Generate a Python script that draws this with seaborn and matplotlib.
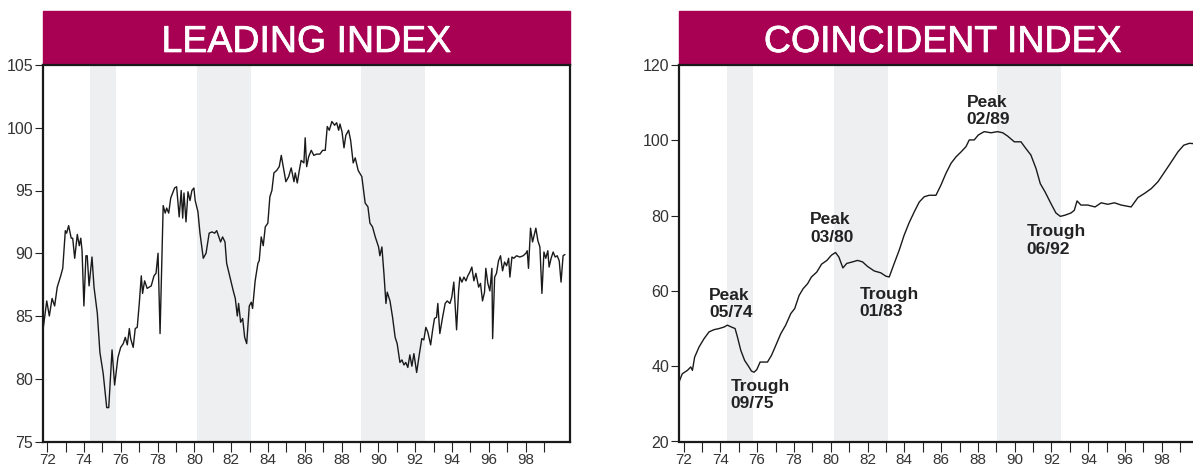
import matplotlib
matplotlib.use("Agg")
import matplotlib.pyplot as plt
import matplotlib.patheffects as pe
from matplotlib.patches import Rectangle
import seaborn as sns
import pandas as pd

# leading index (decimal year, value)
lead_t = [
    1971.75, 1971.97, 1972.11, 1972.26, 1972.40, 1972.54, 1972.73, 1972.84, 1972.98, 1973.05,
    1973.16, 1973.30, 1973.38, 1973.49, 1973.63, 1973.74, 1973.82, 1973.89, 1973.99, 1974.10,
    1974.17, 1974.27, 1974.43, 1974.54, 1974.72, 1974.86, 1975.04, 1975.23, 1975.34, 1975.52,
    1975.66, 1975.84, 1975.99, 1976.13, 1976.24, 1976.35, 1976.46, 1976.53, 1976.67, 1976.78,
    1976.89, 1977.00, 1977.11, 1977.18, 1977.29, 1977.43, 1977.65, 1977.80, 1977.91, 1978.02,
    1978.13, 1978.30, 1978.41, 1978.49, 1978.60, 1978.71, 1978.92, 1979.03, 1979.17, 1979.28,
    1979.36, 1979.43, 1979.54, 1979.65, 1979.76, 1979.86, 1979.97, 1980.04, 1980.19, 1980.30,
    1980.48, 1980.63, 1980.80, 1980.95, 1981.10, 1981.21, 1981.42, 1981.53, 1981.66, 1981.75,
    1981.93, 1982.11, 1982.22, 1982.33, 1982.40, 1982.51, 1982.62, 1982.73, 1982.84, 1982.98,
    1983.09, 1983.16, 1983.30, 1983.45, 1983.52, 1983.63, 1983.74, 1983.85, 1983.99, 1984.10,
    1984.21, 1984.32, 1984.47, 1984.61, 1984.72, 1984.86, 1984.97, 1985.12, 1985.26, 1985.41,
    1985.48, 1985.59, 1985.70, 1985.80, 1985.95, 1986.02, 1986.10, 1986.21, 1986.35, 1986.49,
    1986.64, 1986.82, 1986.97, 1987.11, 1987.22, 1987.33, 1987.47, 1987.62, 1987.73, 1987.84,
    1987.91, 1988.02, 1988.13, 1988.23, 1988.38, 1988.49, 1988.63, 1988.74, 1988.90, 1989.10,
    1989.28, 1989.43, 1989.54, 1989.68, 1989.83, 1990.01, 1990.08, 1990.19, 1990.30, 1990.41,
    1990.48, 1990.63, 1990.77, 1990.91, 1991.02, 1991.17, 1991.28, 1991.39, 1991.49, 1991.60,
    1991.71, 1991.82, 1991.93, 1992.08, 1992.22, 1992.36, 1992.47, 1992.58, 1992.69, 1992.84,
    1992.95, 1993.05, 1993.16, 1993.23, 1993.34, 1993.49, 1993.63, 1993.74, 1993.89, 1993.99,
    1994.10, 1994.25, 1994.36, 1994.43, 1994.54, 1994.65, 1994.76, 1994.86, 1994.97, 1995.08,
    1995.19, 1995.30, 1995.45, 1995.55, 1995.66, 1995.77, 1995.84, 1995.95, 1996.06, 1996.17,
    1996.21, 1996.32, 1996.42, 1996.53, 1996.64, 1996.75, 1996.86, 1996.97, 1997.08, 1997.15,
    1997.26, 1997.36, 1997.51, 1997.69, 1997.87, 1998.02, 1998.09, 1998.16, 1998.27, 1998.38,
    1998.56, 1998.67, 1998.78, 1998.89, 1999.00, 1999.10, 1999.21, 1999.28, 1999.39, 1999.50,
    1999.61, 1999.72, 1999.83, 1999.93, 2000.04, 2000.14,
]
lead_v = [
    83.7, 86.2, 85.0, 86.4, 85.8, 87.3, 88.2, 88.8, 91.8, 91.6,
    92.2, 91.2, 91.2, 89.6, 91.5, 90.6, 91.2, 90.2, 85.8, 89.8,
    89.8, 87.4, 89.7, 87.3, 85.2, 82.1, 80.4, 77.7, 77.7, 82.3,
    79.5, 81.7, 82.5, 82.8, 83.3, 82.7, 84.0, 83.2, 82.5, 84.0,
    84.1, 86.0, 88.2, 86.8, 87.8, 87.2, 87.4, 88.2, 88.4, 90.0,
    83.6, 93.8, 93.2, 93.6, 93.2, 94.4, 95.2, 95.3, 92.9, 95.0,
    92.8, 94.8, 92.5, 94.9, 94.2, 95.0, 95.2, 94.2, 93.3, 91.6,
    89.6, 90.0, 91.6, 91.7, 91.6, 91.8, 90.9, 91.3, 90.9, 89.2,
    88.1, 87.0, 86.4, 85.0, 86.0, 84.5, 84.8, 83.3, 82.8, 85.8,
    86.1, 85.6, 87.8, 89.2, 89.4, 91.3, 90.6, 92.1, 92.4, 94.5,
    95.0, 96.4, 96.6, 96.9, 97.8, 96.6, 95.7, 96.1, 96.8, 95.7,
    96.4, 95.6, 96.6, 97.4, 97.2, 99.2, 96.9, 97.7, 98.2, 97.8,
    97.9, 97.9, 98.2, 98.2, 100.1, 99.8, 100.5, 100.2, 100.4, 99.8,
    100.3, 99.7, 98.4, 99.4, 99.8, 99.0, 97.2, 97.6, 96.6, 96.1,
    94.0, 93.7, 92.4, 92.1, 91.3, 90.5, 89.8, 90.5, 88.4, 86.0,
    86.9, 86.2, 84.9, 83.3, 82.8, 81.3, 81.5, 81.1, 81.3, 80.9,
    81.9, 81.0, 82.0, 80.5, 81.9, 83.2, 83.1, 84.1, 83.7, 82.7,
    83.9, 84.8, 84.9, 86.0, 83.6, 84.9, 86.0, 86.2, 86.0, 86.5,
    87.7, 83.9, 87.0, 88.1, 87.7, 88.1, 87.8, 88.2, 88.5, 88.9,
    87.8, 88.4, 87.3, 87.6, 86.2, 86.9, 88.8, 87.6, 87.0, 88.8,
    83.2, 88.1, 88.4, 89.4, 89.8, 88.6, 89.3, 89.0, 89.6, 88.1,
    89.7, 89.6, 89.8, 89.7, 89.8, 90.0, 90.2, 88.8, 92.0, 90.9,
    92.0, 91.0, 90.5, 86.8, 90.1, 89.6, 90.2, 88.9, 89.6, 90.1,
    89.7, 89.8, 89.4, 87.7, 89.8, 89.9,
]

# coincident index
coin_t = [
    1971.75, 1971.93, 1972.21, 1972.39, 1972.48, 1972.60, 1972.84, 1973.11, 1973.38, 1973.65,
    1973.93, 1974.20, 1974.38, 1974.60, 1974.80, 1974.93, 1975.11, 1975.32, 1975.50, 1975.69,
    1975.83, 1975.98, 1976.16, 1976.34, 1976.56, 1976.78, 1977.01, 1977.28, 1977.55, 1977.83,
    1978.04, 1978.28, 1978.50, 1978.74, 1978.95, 1979.24, 1979.50, 1979.79, 1980.04, 1980.26,
    1980.44, 1980.66, 1980.87, 1981.18, 1981.46, 1981.73, 1982.00, 1982.36, 1982.72, 1983.00,
    1983.18, 1983.45, 1983.72, 1983.99, 1984.26, 1984.54, 1984.81, 1985.08, 1985.35, 1985.72,
    1985.99, 1986.26, 1986.54, 1986.81, 1987.08, 1987.35, 1987.53, 1987.80, 1988.02, 1988.34,
    1988.71, 1989.07, 1989.35, 1989.62, 1989.98, 1990.34, 1990.61, 1990.88, 1991.16, 1991.39,
    1991.65, 1991.97, 1992.24, 1992.48, 1992.73, 1993.06, 1993.24, 1993.39, 1993.60, 1993.97,
    1994.37, 1994.70, 1995.06, 1995.42, 1995.79, 1996.33, 1996.70, 1997.06, 1997.43, 1997.79,
    1998.15, 1998.52, 1998.87, 1999.19, 1999.50, 1999.76,
]
coin_v = [
    35.8, 38.0, 38.9, 39.8, 38.9, 42.4, 45.1, 47.3, 49.1, 49.7,
    50.0, 50.4, 50.9, 50.4, 50.0, 47.7, 44.2, 41.5, 40.2, 38.7,
    38.4, 39.1, 41.1, 41.1, 41.1, 42.9, 45.5, 48.6, 50.9, 54.0,
    55.3, 58.8, 60.6, 61.9, 63.7, 65.0, 67.1, 68.1, 69.5, 70.2,
    69.0, 66.1, 67.3, 67.7, 68.1, 67.7, 66.5, 65.3, 64.8, 63.9,
    63.7, 67.3, 70.8, 74.8, 78.1, 81.0, 83.6, 85.0, 85.4, 85.4,
    88.1, 91.2, 93.9, 95.6, 96.9, 98.3, 100.1, 100.1, 101.4, 102.3,
    102.0, 102.3, 102.0, 101.1, 99.6, 99.6, 97.8, 96.1, 92.5, 88.5,
    86.3, 83.2, 80.7, 79.8, 80.1, 80.7, 81.4, 83.9, 82.8, 82.8,
    82.3, 83.4, 83.0, 83.4, 82.8, 82.3, 84.8, 85.9, 87.2, 89.0,
    91.6, 94.3, 96.9, 98.7, 99.2, 99.1,
]

# recessions (shaded)
rec_start = [1974.34, 1980.15, 1989.05]
rec_end = [1975.75, 1983.09, 1992.52]

# annotations on the coincident panel
note_text = ["Peak\n05/74", "Trough\n09/75", "Peak\n03/80", "Trough\n01/83", "Peak\n02/89", "Trough\n06/92"]
note_x = [1973.38, 1974.56, 1978.88, 1981.58, 1987.39, 1990.65]
note_y = [60.8, 36.7, 80.9, 61.1, 112.1, 77.7]

years = list(range(1972, 2000))
year_labels = [f"{y % 100:02d}" if y % 2 == 0 else "" for y in years]

sns.set_style("white")
plt.rcParams["font.family"] = ["Liberation Sans", "DejaVu Sans"]

W, H = 1193, 468
BANNER = "#a80052"
LINE = "#1a1a1a"
SHADE = "#eeeff1"
TXT = "#333333"

fig = plt.figure(figsize=(W / 100, H / 100), dpi=100)
ax_w = 527 / W
ax_b = 1 - 441.5 / H
ax_h = 376.5 / H
ax1 = fig.add_axes([42.7 / W, ax_b, ax_w, ax_h])
ax2 = fig.add_axes([679 / W, ax_b, ax_w, ax_h])

lead = pd.DataFrame({"year": lead_t, "value": lead_v})
coin = pd.DataFrame({"year": coin_t, "value": coin_v})


def setup(ax, title, ylim, yticks):
    for s, e in zip(rec_start, rec_end):
        ax.axvspan(s, e, color=SHADE, zorder=0, linewidth=0)
    ax.set_xlim(1971.75, 2000.4)
    ax.set_ylim(*ylim)
    ax.set_yticks(yticks)
    ax.set_xticks(years)
    ax.set_xticklabels(year_labels)
    ax.set_xlabel("")
    ax.set_ylabel("")
    ax.tick_params(axis="x", direction="out", length=7, width=0.8, color="#222222",
                   pad=1.5, labelsize=11, labelcolor=TXT, bottom=True)
    ax.tick_params(axis="y", direction="out", length=6, width=0.8, color="#222222",
                   pad=1, labelsize=11.5, labelcolor=TXT, left=True)
    for sp in ax.spines.values():
        sp.set_visible(True)
        sp.set_linewidth(1.6)
        sp.set_color("#1a1a1a")
    ax.grid(False)

    # title banner
    pos = ax.get_position()
    fig.add_artist(Rectangle((pos.x0, 1 - 65 / H), pos.width, 54 / H,
                             transform=fig.transFigure, color=BANNER, zorder=0))
    fig.text(pos.x0 + pos.width / 2, 1 - 52 / H, title, color="white", fontsize=27,
             ha="center", va="baseline",
             path_effects=[pe.withStroke(linewidth=0.5, foreground="white")])


sns.lineplot(data=lead, x="year", y="value", ax=ax1, color=LINE, linewidth=1.0,
             estimator=None, sort=False)
setup(ax1, "LEADING INDEX", (75, 105), [75, 80, 85, 90, 95, 100, 105])

sns.lineplot(data=coin, x="year", y="value", ax=ax2, color=LINE, linewidth=1.0,
             estimator=None, sort=False)
setup(ax2, "COINCIDENT INDEX", (20, 120), [20, 40, 60, 80, 100, 120])

for t, x, y in zip(note_text, note_x, note_y):
    ax2.text(x, y, t, ha="left", va="top", fontsize=12.5, fontweight="bold",
             color="#222222", linespacing=1.2)

fig.savefig("out.png", dpi=100)
